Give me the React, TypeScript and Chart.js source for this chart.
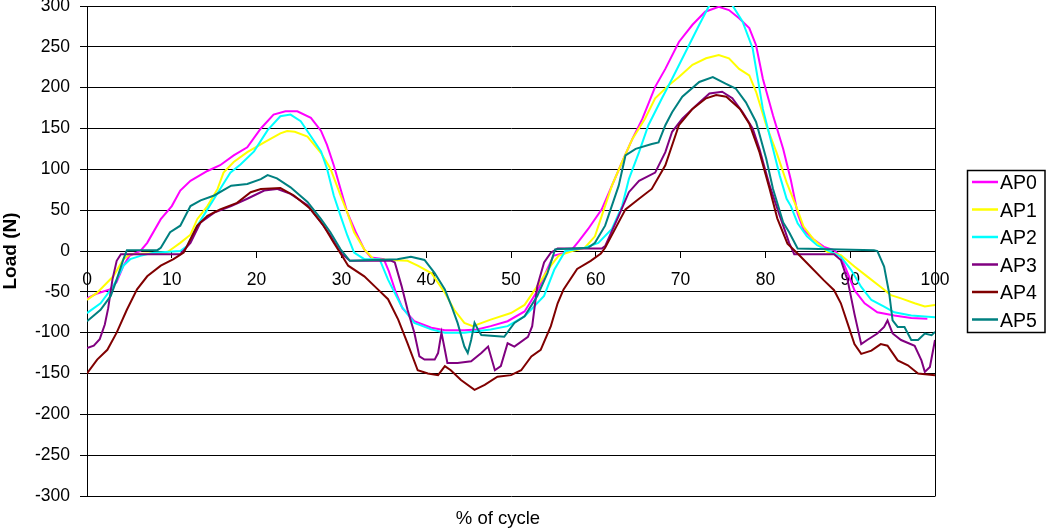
import React, { useEffect, useRef } from 'react';
import { Chart, registerables } from 'chart.js';

Chart.register(...registerables);

const FONT = '"Liberation Sans", Arial, sans-serif';

const seriesNames = ['AP0', 'AP1', 'AP2', 'AP3', 'AP4', 'AP5'];
const seriesColors = ['#FF00FF', '#FFFF00', '#00FFFF', '#800080', '#800000', '#008080'];
const xTickValues = [0, 10, 20, 30, 40, 50, 60, 70, 80, 90, 100];
const yTickValues = [-300, -250, -200, -150, -100, -50, 0, 50, 100, 150, 200, 250, 300];
const xTitle = '% of cycle';
const yTitle = 'Load (N)';

const ap0X = [0, 1.2, 2.7, 3.5, 4.3, 5, 6.3, 7.1, 8.7, 10, 11, 12.2, 14.2, 15.7, 17.3, 18.9, 20.5, 22, 23.4, 24.8, 26.4, 27.6, 28.3, 29.1, 29.9, 30.7, 31.7, 32.7, 33.5, 35, 35.6, 36.4, 37.2, 38.6, 40.6, 42.2, 44.5, 46, 47.6, 49.6, 51.6, 53.1, 55, 56.4, 57.2, 58, 59.1, 60.7, 61.9, 63.1, 64.3, 65.5, 67, 68.2, 69.8, 71.4, 72.9, 74.5, 75.7, 76.9, 78.1, 78.9, 79.7, 80.9, 82.1, 83, 83.8, 84.5, 85.7, 86.9, 88.1, 88.9, 89.7, 90.5, 91.7, 93.2, 95.2, 97.2, 99.1];
const ap0Y = [-58, -52, -47, -38, -18, -6, 0, 10, 39, 55, 74, 86, 98, 105, 117, 127, 150, 167, 171, 171, 163, 147, 130, 105, 76, 47, 23, 2, -8, -10, -25, -50, -70, -86, -94, -97, -97, -96, -92, -86, -74, -49, -6, -2, 2, 12, 27, 51, 80, 109, 137, 162, 201, 223, 256, 277, 293, 299, 295, 285, 273, 252, 211, 166, 125, 87, 46, 26, 14, 5, 1, -7, -27, -48, -64, -75, -79, -82, -83];

const ap1X = [0, 1.2, 3.1, 4.3, 5.1, 9.4, 10.2, 11, 12.2, 13, 14.2, 15.4, 16.1, 17.3, 18.9, 20.9, 22.8, 23.6, 24.5, 26, 27.6, 28.7, 29.9, 30.7, 31.5, 32.7, 33.8, 37.8, 39, 40.6, 42.2, 43.3, 44.5, 45.5, 47.6, 50, 51.6, 53.1, 54.7, 55.6, 57.2, 58.7, 59.9, 60.7, 61.9, 63.1, 64.3, 65.8, 67, 68.6, 69.8, 71.4, 73, 74.5, 75.7, 76.9, 78.1, 78.9, 80.1, 81.3, 82.5, 83.8, 84.5, 85.7, 87.3, 88.9, 90.5, 92.1, 93.6, 94.8, 96, 97.6, 98.8, 100];
const ap1Y = [-60, -51, -31, -10, -4, -2, 4, 10, 20, 39, 55, 76, 96, 109, 121, 133, 144, 147, 146, 140, 120, 101, 68, 47, 23, 2, -10, -12, -18, -27, -51, -72, -88, -92, -84, -76, -66, -43, -18, -6, 0, 4, 18, 43, 80, 109, 137, 162, 187, 203, 213, 228, 236, 240, 236, 223, 215, 195, 154, 121, 84, 50, 30, 14, -1, -5, -19, -32, -44, -54, -58, -64, -68, -66];

const ap2X = [0, 1.6, 3.1, 4.3, 5.1, 6.3, 7.9, 11, 11.8, 13, 14.2, 15.7, 16.9, 18.1, 19.7, 21.3, 22.8, 24, 25.2, 26.3, 27.6, 28.3, 29.1, 29.9, 30.7, 31.5, 32.7, 34.5, 35.5, 37.1, 38.6, 40.6, 42.2, 44.5, 47.6, 49.6, 51.6, 53.9, 55.1, 56.4, 58.7, 60.3, 61.9, 63.1, 63.9, 65.1, 66.2, 67.8, 69, 70.6, 72.2, 73.4, 74.5, 75.5, 76.1, 77.3, 78.5, 79.7, 80.9, 81.7, 82.5, 83, 83.8, 84.9, 86.1, 87.3, 88.9, 90.1, 91.3, 92.5, 94, 95.2, 97.2, 100];
const ap2Y = [-76, -64, -43, -18, -10, -6, -2, 0, 6, 31, 51, 76, 96, 106, 122, 148, 165, 167, 159, 142, 122, 101, 68, 43, 19, -2, -10, -10, -35, -68, -88, -96, -100, -100, -96, -92, -80, -55, -23, 0, 4, 10, 27, 55, 88, 121, 154, 187, 211, 244, 277, 301, 308, 306, 301, 281, 248, 174, 125, 92, 64, 55, 34, 18, 7, 1, -7, -23, -44, -60, -68, -75, -79, -81];

const ap3X = [0, 0.8, 1.5, 2.1, 2.5, 3, 3.5, 4, 11, 12.2, 13.4, 15, 17, 18.9, 20.9, 22.4, 24, 26, 27.6, 28.7, 29.9, 31, 35.9, 36.3, 37.1, 37.8, 38.6, 39.2, 39.8, 41, 41.4, 41.8, 42.2, 42.5, 43.7, 45.3, 46.5, 47.3, 48.1, 48.8, 49.6, 50.4, 52, 52.5, 53.1, 53.9, 54.7, 55.5, 60.7, 61.1, 62.7, 63.9, 65.1, 67, 68.2, 69, 70.2, 71.8, 73.4, 74.9, 76.1, 77.3, 78.5, 79.3, 80.5, 81.7, 82.8, 83.4, 88.1, 88.9, 89.7, 90.5, 91.3, 92, 93.2, 94, 94.4, 95, 96, 97.6, 98.4, 98.8, 99.4, 100];
const ap3Y = [-119, -116, -108, -90, -70, -35, -12, -4, -4, 10, 35, 47, 55, 64, 74, 76, 70, 56, 35, 19, -2, -12, -12, -14, -43, -72, -100, -129, -133, -133, -125, -100, -121, -137, -137, -135, -125, -117, -146, -141, -113, -117, -105, -92, -43, -14, -2, 3, 3, 6, 43, 72, 86, 96, 121, 146, 162, 178, 193, 195, 187, 170, 150, 125, 80, 43, 10, -4, -4, -11, -36, -77, -114, -109, -101, -93, -85, -101, -109, -116, -134, -148, -142, -109];

const ap4X = [0, 1.2, 2.4, 3.5, 4.7, 5.9, 7.1, 8.7, 10.2, 11.4, 13, 14.2, 15.7, 17.7, 19.3, 20.5, 22.8, 24.4, 26.3, 27.9, 29.1, 30.2, 30.8, 32.7, 34.3, 35.5, 36.7, 37.8, 39, 40.2, 41.4, 42.2, 42.9, 44.1, 45.7, 46.9, 48.4, 50, 51.2, 52.4, 53.5, 54.7, 55.5, 56.2, 57.8, 59.4, 60.6, 61.1, 63.5, 65.1, 66.6, 68.2, 69.8, 71.4, 73, 74.2, 75.4, 77, 78.1, 79.3, 80.5, 81.4, 82.6, 83.8, 85.3, 86.9, 88.1, 88.9, 89.7, 90.5, 91.3, 92.5, 93.6, 94.4, 95.6, 96.8, 98, 100];
const ap4Y = [-150, -133, -121, -100, -72, -47, -31, -18, -10, -2, 31, 43, 51, 59, 72, 76, 77, 68, 52, 31, 10, -8, -18, -31, -47, -59, -84, -113, -146, -150, -152, -141, -146, -158, -170, -164, -154, -152, -146, -129, -121, -92, -64, -47, -22, -12, -3, 4, 51, 64, 76, 105, 154, 174, 187, 191, 189, 174, 156, 121, 76, 40, 9, -3, -19, -36, -48, -64, -89, -114, -126, -122, -114, -116, -134, -140, -150, -152];

const ap5X = [0, 1.6, 2.8, 3.5, 4.3, 4.7, 8.3, 8.7, 9.8, 11, 12.2, 13.4, 15, 17, 18.9, 20.5, 21.3, 22.4, 24, 26, 27.6, 28.7, 29.9, 31, 36.6, 38.2, 39.8, 41, 42.2, 43, 43.7, 44.5, 44.9, 45.3, 45.7, 46.1, 46.5, 49.2, 50.4, 51.6, 53.1, 54.3, 55.2, 59.1, 59.9, 61.1, 62.7, 63.5, 64.7, 66.6, 67.4, 68.2, 69, 70.2, 72.2, 73.8, 75.3, 76.5, 77.7, 78.9, 80.1, 80.9, 82.1, 82.8, 83.8, 92.8, 93.2, 94, 94.6, 95, 95.6, 96.4, 97.2, 98, 98.8, 99.6, 100];
const ap5Y = [-86, -72, -55, -35, -10, 1, 1, 4, 23, 31, 55, 62, 68, 80, 82, 88, 93, 89, 78, 60, 39, 23, 2, -12, -10, -7, -11, -27, -47, -68, -88, -117, -125, -109, -88, -96, -103, -105, -88, -80, -55, -27, 2, 4, 10, 31, 80, 117, 125, 131, 133, 154, 170, 189, 207, 213, 205, 199, 182, 158, 113, 76, 35, 23, 3, 1, 0, -19, -52, -85, -93, -93, -109, -109, -101, -103, -99];

const seriesX = [ap0X, ap1X, ap2X, ap3X, ap4X, ap5X];
const seriesY = [ap0Y, ap1Y, ap2Y, ap3Y, ap4Y, ap5Y];

const decorPlugin = {
  id: 'decor',
  beforeDatasetsDraw(chart: any) {
    const { ctx, chartArea } = chart;
    ctx.save();
    ctx.strokeStyle = '#000';
    ctx.lineWidth = 1;
    const rx = Math.round(chartArea.right) + 0.5;
    ctx.beginPath();
    ctx.moveTo(rx, chartArea.top);
    ctx.lineTo(rx, chartArea.bottom + 0.5);
    ctx.stroke();
    ctx.restore();
  },
  afterDraw(chart: any) {
    const { ctx } = chart;
    ctx.save();
    // axis titles
    ctx.fillStyle = '#000';
    ctx.font = `18.5px ${FONT}`;
    ctx.textAlign = 'center';
    ctx.textBaseline = 'alphabetic';
    ctx.fillText(xTitle, 498, 523.5);

    ctx.save();
    ctx.translate(10.5, 251);
    ctx.rotate(-Math.PI / 2);
    ctx.font = `bold 19px ${FONT}`;
    ctx.textAlign = 'center';
    ctx.textBaseline = 'middle';
    ctx.fillText(yTitle, 0, 0);
    ctx.restore();

    // legend
    const bx = 967.5, by = 170.5, bw = 77.5, bh = 162;
    ctx.fillStyle = '#fff';
    ctx.fillRect(bx, by, bw, bh);
    ctx.strokeStyle = '#000';
    ctx.lineWidth = 1.5;
    ctx.strokeRect(bx, by, bw, bh);
    ctx.font = `19.5px ${FONT}`;
    ctx.textAlign = 'left';
    ctx.textBaseline = 'middle';
    seriesNames.forEach((name, i) => {
      const y = 182 + i * 27.5;
      ctx.strokeStyle = seriesColors[i];
      ctx.lineWidth = 2.5;
      ctx.beginPath();
      ctx.moveTo(972, y);
      ctx.lineTo(998, y);
      ctx.stroke();
      ctx.fillStyle = '#000';
      ctx.fillText(name, 1000, y + 2);
    });
    ctx.restore();
  },
};

export default function App() {
  const ref = useRef<HTMLCanvasElement | null>(null);

  useEffect(() => {
    if (!ref.current) return;
    const datasets = seriesNames.map((name, i) => ({
      label: name,
      data: seriesX[i].map((x, j) => ({ x, y: seriesY[i][j] })),
      borderColor: seriesColors[i],
      backgroundColor: seriesColors[i],
      borderWidth: 2,
      pointRadius: 0,
      tension: 0,
      fill: false,
      order: seriesNames.length - 1 - i,
    }));

    const chart = new Chart(ref.current, {
      type: 'line',
      data: { datasets },
      options: {
        responsive: false,
        animation: false,
        devicePixelRatio: 1,
        layout: { padding: { left: 0, top: 6, right: 115, bottom: 34 } },
        plugins: {
          legend: { display: false },
          tooltip: { enabled: false },
        },
        scales: {
          x: {
            type: 'linear',
            min: 0,
            max: 100,
            position: { y: 0 },
            afterBuildTicks: (scale: any) => {
              scale.ticks = xTickValues.map((v) => ({ value: v }));
            },
            afterFit: (scale: any) => {
              scale.paddingLeft = 0;
              scale.paddingRight = 0;
            },
            grid: {
              display: true,
              drawOnChartArea: false,
              drawTicks: true,
              tickLength: 6,
              color: '#000',
              lineWidth: 1,
            },
            border: { display: true, color: '#000', width: 1 },
            ticks: {
              color: '#000',
              font: { family: FONT, size: 17.5 },
              padding: 13,
              maxRotation: 0,
              autoSkip: false,
              callback: (v: any) => String(v),
            },
          },
          y: {
            type: 'linear',
            min: -300,
            max: 300,
            position: 'left',
            afterBuildTicks: (scale: any) => {
              scale.ticks = yTickValues.map((v) => ({ value: v }));
            },
            afterFit: (scale: any) => {
              scale.width = 87;
              scale.paddingTop = 0;
              scale.paddingBottom = 0;
            },
            grid: {
              display: true,
              drawOnChartArea: true,
              drawTicks: true,
              tickLength: 7,
              color: '#000',
              lineWidth: 1,
            },
            border: { display: true, color: '#000', width: 1 },
            ticks: {
              color: '#000',
              font: { family: FONT, size: 17.5 },
              padding: 10,
              autoSkip: false,
              callback: (v: any) => String(v),
            },
          },
        },
      },
      plugins: [decorPlugin],
    } as any);

    return () => chart.destroy();
  }, []);

  return (
    <div style={{ position: 'absolute', left: 0, top: 0, width: 1050, height: 530, background: '#fff' }}>
      <canvas ref={ref} width={1050} height={530} style={{ display: 'block', width: 1050, height: 530 }} />
    </div>
  );
}
